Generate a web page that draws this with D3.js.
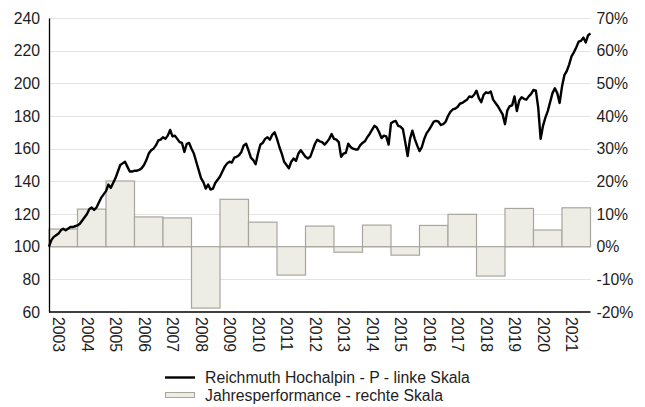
<!DOCTYPE html>
<html>
<head>
<meta charset="utf-8">
<script src="https://cdn.jsdelivr.net/npm/d3@7"></script>
<style>
  html, body { margin: 0; padding: 0; background: #ffffff; }
  svg { display: block; }
  text { font-family: Arial, "Liberation Sans", Helvetica, sans-serif; fill: #1e1e1e; }
</style>
</head>
<body>
<svg id="chart" width="645" height="407"></svg>
<script>
// Calendar years shown on the x axis
const years = [2003, 2004, 2005, 2006, 2007, 2008, 2009, 2010, 2011, 2012,
               2013, 2014, 2015, 2016, 2017, 2018, 2019, 2020, 2021];

// Annual performance per year, in percent (right scale)
const annualPerformance = [5.4, 11.5, 20.1, 9.1, 8.8, -18.8, 14.5, 7.5, -8.7, 6.3,
                           -1.7, 6.6, -2.6, 6.5, 9.9, -9.0, 11.7, 5.1, 11.9];

// Month-end index level, start of 2003 = 100 (left scale), one row per year
const fundIndex = [
  100, 104, 106, 107, 108, 110, 111, 110, 111, 112, 112, 112.5,          // 2003
  113, 114, 116, 118, 120, 123, 124, 122.5, 124, 127, 130, 132,          // 2004
  134, 138, 136, 139, 142, 146, 150, 151, 152, 149, 146, 146,            // 2005
  146.5, 146.5, 147, 148, 150, 153, 157, 159, 160, 162, 165, 165.5,      // 2006
  167, 166, 168, 171.5, 167.5, 168, 166, 164, 163.5, 158, 163, 163.5,    // 2007
  160, 157, 152, 147, 142, 139.5, 135.5, 138, 135, 135.5, 139, 141,      // 2008
  143, 146, 149, 151, 152, 151.5, 154.5, 155, 156, 158, 162, 163,        // 2009
  159, 154.5, 153, 150.5, 157, 162.5, 163.5, 166, 167, 165.5, 168.5, 170, // 2010
  166, 161, 157, 152, 150, 148, 152, 154, 152.5, 157, 159, 157,          // 2011
  155, 154, 155, 159, 163, 165.5, 164.5, 164, 162.5, 164, 166, 169,      // 2012
  166, 165.5, 164, 155, 157, 157.5, 163, 161, 160, 159.5, 159.5, 162,    // 2013
  163.5, 164.5, 167, 169, 171.5, 174, 173, 170, 166.5, 168, 167.5, 162.5, // 2014
  175.5, 176.5, 177, 174, 173.5, 172, 164, 155.5, 166, 171, 166, 162,    // 2015
  158.5, 161, 166, 169.5, 171.5, 174, 176.5, 177, 176.5, 174.5, 175, 176.5, // 2016
  180, 182.5, 184, 184.5, 185.5, 187.5, 188, 189, 190, 192, 191.5, 193,  // 2017
  195.5, 191, 188.5, 193, 194.5, 194, 195, 190, 188, 186, 183.5, 181,    // 2018
  175, 183.5, 186, 186.5, 192, 183, 189.5, 191.5, 190.5, 190, 192, 193.5, // 2019
  196, 195.5, 185, 166, 174, 179, 183, 188.5, 194, 197, 194, 188,        // 2020
  198, 205, 207.5, 211.5, 216.5, 219, 222, 225.5, 226, 228, 225, 229.5,  // 2021
  230.5                                                                  // end of 2021
];

// Tick values for both vertical scales
const leftTicks = [60, 80, 100, 120, 140, 160, 180, 200, 220, 240];
const rightTicks = [-20, -10, 0, 10, 20, 30, 40, 50, 60, 70];

// Legend entries
const lineLabel = "Reichmuth Hochalpin - P - linke Skala";
const barLabel = "Jahresperformance - rechte Skala";

const fontSize = 15.8;
const svg = d3.select("#chart");
const plot = { left: 49, right: 590.5, top: 18, bottom: 312 };

const xBand = d3.scaleBand().domain(years).range([plot.left, plot.right]).padding(0);
const xMonth = d3.scaleLinear().domain([0, fundIndex.length - 1]).range([plot.left, plot.right]);
const yLeft = d3.scaleLinear().domain([60, 240]).range([plot.bottom, plot.top]);
const yRight = d3.scaleLinear().domain([-20, 70]).range([plot.bottom, plot.top]);

// Horizontal gridlines
svg.append("g")
  .selectAll("line")
  .data(leftTicks.filter(t => t !== 60))
  .join("line")
  .attr("x1", plot.left).attr("x2", plot.right)
  .attr("y1", d => Math.round(yLeft(d)) + 0.5)
  .attr("y2", d => Math.round(yLeft(d)) + 0.5)
  .attr("stroke", "#e3e3e3")
  .attr("stroke-width", 1.2);

// Annual performance bars (right scale)
svg.append("g")
  .selectAll("rect")
  .data(years.map((y, i) => ({ year: y, value: annualPerformance[i] })))
  .join("rect")
  .attr("x", d => xBand(d.year))
  .attr("width", xBand.bandwidth())
  .attr("y", d => yRight(Math.max(0, d.value)))
  .attr("height", d => Math.abs(yRight(d.value) - yRight(0)))
  .attr("fill", "#eeede5")
  .attr("stroke", "#a8a59d")
  .attr("stroke-width", 1.2);

// Fund index line (left scale)
const line = d3.line()
  .x((d, i) => xMonth(i))
  .y(d => yLeft(d))
  .curve(d3.curveLinear);

svg.append("path")
  .datum(fundIndex)
  .attr("d", line)
  .attr("fill", "none")
  .attr("stroke", "#000")
  .attr("stroke-width", 2.4)
  .attr("stroke-linejoin", "round");

// Left axis
const leftAxis = svg.append("g").attr("transform", `translate(${plot.left},0)`)
  .call(d3.axisLeft(yLeft).tickValues(leftTicks).tickSize(0).tickPadding(9));
leftAxis.select(".domain").attr("stroke", "#000").attr("stroke-width", 1.3);
leftAxis.selectAll("text").attr("font-size", fontSize).attr("fill", "#1e1e1e")
  .attr("font-family", "Arial, 'Liberation Sans', sans-serif");

// Right axis (labels only)
const rightAxis = svg.append("g").attr("transform", `translate(${plot.right},0)`)
  .call(d3.axisRight(yRight).tickValues(rightTicks).tickSize(0).tickPadding(6)
    .tickFormat(d => d + "%"));
rightAxis.select(".domain").remove();
rightAxis.selectAll("text").attr("font-size", fontSize).attr("fill", "#1e1e1e")
  .attr("font-family", "Arial, 'Liberation Sans', sans-serif");

// Bottom axis line and rotated year labels
svg.append("line")
  .attr("x1", plot.left).attr("x2", plot.right)
  .attr("y1", plot.bottom).attr("y2", plot.bottom)
  .attr("stroke", "#000").attr("stroke-width", 1.3);

svg.append("g")
  .selectAll("text")
  .data(years)
  .join("text")
  .attr("transform", d => `translate(${xBand(d) + 4},${plot.bottom + 5}) rotate(90)`)
  .attr("font-size", fontSize)
  .text(d => d);

// Legend
const legend = svg.append("g");
legend.append("line")
  .attr("x1", 165).attr("x2", 195).attr("y1", 377.5).attr("y2", 377.5)
  .attr("stroke", "#000").attr("stroke-width", 2.4);
legend.append("text")
  .attr("x", 205).attr("y", 383).attr("font-size", fontSize).text(lineLabel);
legend.append("rect")
  .attr("x", 165.5).attr("y", 392.5).attr("width", 29).attr("height", 5)
  .attr("fill", "#eeede5").attr("stroke", "#a8a59d").attr("stroke-width", 1);
legend.append("text")
  .attr("x", 205).attr("y", 400.5).attr("font-size", fontSize).text(barLabel);
</script>
</body>
</html>
